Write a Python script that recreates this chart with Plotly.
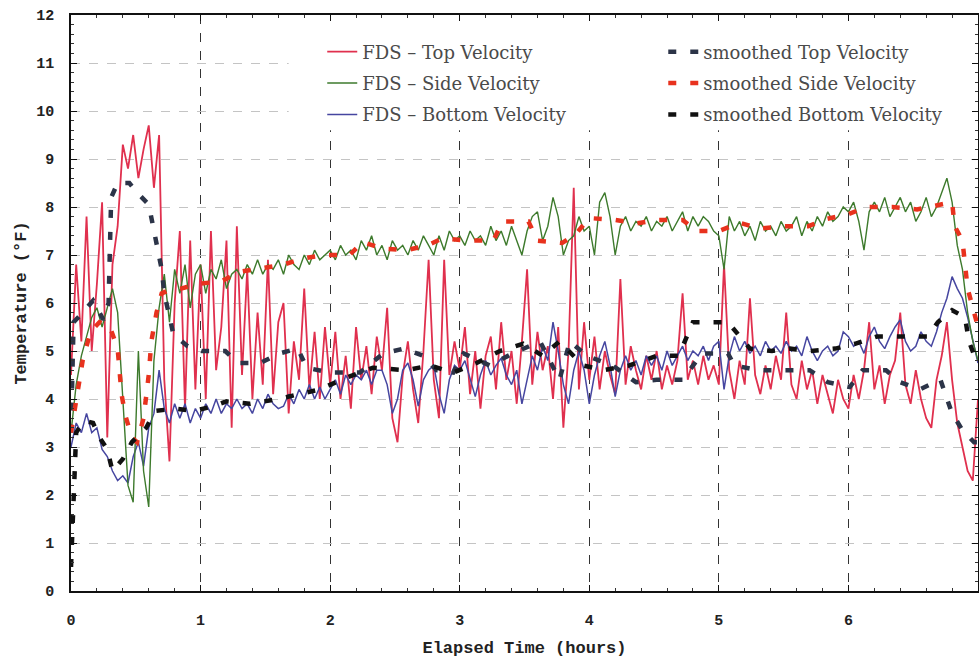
import plotly.graph_objects as go

# ---- raw FDS series, sampled every 0.04 h (25 samples per hour) ----
top_velocity = [
    4.5, 6.8, 5.2, 7.8, 5.0, 6.4, 8.1, 3.2, 6.8, 7.6, 9.3, 8.8, 9.5, 8.6, 9.2, 9.7, 8.4, 9.5, 4.4, 2.7, 6.0, 7.5, 3.8, 7.3, 4.2,
    6.8, 4.0, 7.5, 4.6, 5.5, 7.3, 3.4, 7.6, 4.5, 6.7, 4.0, 5.8, 4.3, 6.9, 4.1, 5.6, 6.0, 3.7, 5.2, 4.4, 6.3, 4.2, 5.4, 4.0, 5.5,
    4.3, 5.4, 4.0, 4.9, 3.8, 5.5, 4.4, 5.1, 4.1, 5.3, 4.6, 5.9, 3.6, 3.1, 4.5, 5.2, 4.2, 3.5, 5.0, 6.9, 4.4, 3.6, 6.9, 4.5, 5.2,
    4.6, 5.5, 4.1, 5.0, 3.8, 4.9, 5.3, 4.2, 5.6, 4.4, 5.0, 3.9, 5.2, 6.7, 4.3, 5.4, 4.6, 5.1, 4.0, 5.5, 3.4, 5.0, 8.4, 4.2, 5.6,
    4.4, 5.3, 4.2, 5.0, 4.5, 4.1, 6.5, 4.3, 5.1, 4.6, 4.2, 4.9, 4.4, 5.0, 4.2, 4.7, 4.3, 4.8, 6.2, 4.4, 4.8, 4.3, 4.9, 4.4, 4.7,
    4.3, 6.8, 4.6, 4.0, 4.8, 4.3, 6.1, 4.5, 4.1, 4.7, 4.2, 4.9, 4.4, 5.8, 4.3, 4.0, 4.8, 4.2, 4.6, 3.9, 4.5, 4.1, 3.7, 4.4, 4.0,
    3.8, 4.5, 4.0, 4.6, 5.6, 4.2, 4.7, 3.9, 4.5, 4.8, 5.8, 4.3, 3.9, 4.6, 4.0, 3.6, 3.4, 4.4, 4.9, 5.6, 4.4, 3.5, 3.0, 2.5, 2.3,
    4.0,
]
side_velocity = [
    3.3, 4.3, 4.9, 5.3, 5.7, 5.9, 5.5, 5.9, 6.3, 5.8, 4.0, 2.2, 1.85, 5.0, 2.5, 1.75, 4.8, 5.9, 6.6, 5.6, 6.7, 6.2, 6.8, 5.9, 6.6,
    6.8, 6.2, 6.7, 6.5, 6.9, 6.3, 6.6, 6.7, 6.5, 6.8, 6.6, 6.9, 6.6, 6.8, 6.7, 6.9, 6.6, 7.0, 6.8, 6.7, 7.0, 6.8, 7.1, 6.9, 7.0,
    7.1, 6.9, 7.2, 7.0, 7.1, 6.9, 7.3, 7.1, 7.4, 7.0, 7.2, 6.9, 7.3, 7.1, 7.2, 7.0, 7.3, 7.1, 7.4, 7.2, 7.0, 7.4, 7.1, 7.5, 7.3,
    7.4, 7.2, 7.5, 7.3, 7.4, 7.2, 7.6, 7.3, 7.5, 7.2, 7.6, 7.3, 7.0, 7.5, 7.8, 7.9, 7.3, 7.6, 8.2, 7.8, 7.0, 7.3, 7.4, 7.8, 7.5,
    7.6, 7.0, 8.1, 8.3, 7.8, 7.0, 7.6, 7.8, 7.5, 7.7, 7.6, 7.8, 7.5, 7.7, 7.6, 7.8, 7.5, 7.7, 7.9, 7.5, 7.8, 7.6, 7.8, 7.7, 7.5,
    7.4, 6.7, 7.8, 7.5, 7.7, 7.4, 7.6, 7.3, 7.7, 7.5, 7.6, 7.4, 7.7, 7.5, 7.6, 7.8, 7.4, 7.7, 7.5, 7.8, 7.6, 7.9, 7.7, 7.8, 8.0,
    7.9, 8.1, 7.7, 7.1, 7.9, 8.1, 7.9, 8.2, 7.8, 8.0, 8.2, 7.9, 8.1, 7.7, 7.9, 8.2, 7.8, 8.0, 8.3, 8.6, 8.1, 7.2, 6.7, 5.8, 5.2,
    4.8,
]
bottom_velocity = [
    3.0, 3.5, 3.3, 3.7, 3.3, 3.4, 2.95, 2.8, 2.5, 2.3, 2.4, 2.25, 2.8, 3.1, 2.6, 3.4, 3.7, 4.6, 3.8, 3.5, 3.9, 3.6, 3.9, 3.5, 3.8,
    3.6, 3.9, 3.7, 4.0, 3.7, 3.9, 3.8, 4.0, 3.8, 3.9, 3.7, 4.0, 3.8, 4.1, 3.9, 3.8, 3.85, 4.1, 3.9, 4.2, 4.0, 4.3, 4.0, 4.25, 4.0,
    4.2, 4.4, 4.1, 4.5, 4.3, 4.5, 4.4, 4.6, 4.3, 4.6, 4.6, 4.3, 3.7, 4.0, 4.6, 4.75, 4.4, 3.85, 4.4, 4.6, 4.7, 4.1, 3.7, 4.4, 4.7,
    4.6, 4.8, 4.4, 4.05, 4.5, 4.8, 4.5, 4.7, 4.85, 4.5, 4.3, 4.6, 3.9, 4.4, 4.9, 4.6, 5.1, 4.8, 5.6, 5.0, 4.3, 3.9, 4.6, 5.0, 4.6,
    3.9, 4.5, 4.9, 5.2, 4.7, 4.05, 4.6, 4.9, 4.6, 4.8, 4.5, 4.9, 4.7, 4.9, 4.6, 5.0, 4.7, 4.9, 5.1, 4.8, 5.0, 4.9, 5.1, 4.8, 5.1,
    5.2, 4.2, 4.9, 5.3, 5.0, 5.2, 4.95, 5.1, 4.9, 5.2, 5.0, 5.1, 4.95, 5.2, 5.0, 5.1, 4.9, 5.3, 5.0, 4.8, 5.0, 5.1, 4.9, 5.0, 5.4,
    5.3, 5.1, 5.2, 4.95, 5.3, 5.5, 5.2, 5.05, 5.3, 5.5, 5.65, 5.2, 5.0, 5.1, 5.4, 5.2, 5.1, 5.4, 5.8, 6.1, 6.55, 6.3, 6.1, 5.7, 5.2,
    4.75,
]
sample_step_h = 0.04
raw_hours = [round(i * sample_step_h, 2) for i in range(len(top_velocity))]

# ---- smoothed series: (elapsed hours, temperature) ----
smoothed_top = [
    (0.0, 3.3), (0.02, 5.6), (0.09, 5.8), (0.17, 6.05), (0.25, 5.65), (0.29, 6.0), (0.31, 8.2), (0.36, 8.5),
    (0.45, 8.5), (0.51, 8.3), (0.6, 8.05), (0.65, 7.4), (0.7, 6.7), (0.72, 6.2), (0.79, 5.35), (0.9, 5.1),
    (1.01, 5.0), (1.19, 5.0), (1.29, 4.75), (1.46, 4.75), (1.61, 4.95), (1.75, 5.05), (1.82, 4.65), (2.0, 4.55),
    (2.23, 4.55), (2.41, 4.95), (2.57, 5.05), (2.72, 4.9), (2.82, 4.6), (2.95, 4.55), (3.03, 4.95), (3.23, 4.7),
    (3.41, 4.95), (3.62, 5.2), (3.77, 4.4), (3.85, 5.2), (3.98, 4.9), (4.18, 4.7), (4.36, 4.35), (4.52, 4.4),
    (4.72, 4.4), (4.87, 4.95), (5.07, 4.95), (5.12, 4.7), (5.3, 4.6), (5.49, 4.6), (5.7, 4.6), (5.84, 4.35),
    (6.01, 4.25), (6.11, 4.6), (6.29, 4.6), (6.4, 4.35), (6.55, 4.2), (6.71, 4.4), (6.8, 3.7), (6.88, 3.35),
    (6.97, 3.1), (7.0, 3.1),
]
smoothed_side = [
    (0.0, 3.3), (0.05, 4.2), (0.09, 4.8), (0.15, 5.4), (0.22, 5.6), (0.3, 5.5), (0.36, 5.05), (0.39, 4.1),
    (0.42, 3.65), (0.47, 3.2), (0.51, 3.1), (0.56, 3.6), (0.6, 4.5), (0.62, 5.2), (0.66, 5.8), (0.7, 6.2),
    (0.76, 6.27), (0.85, 6.3), (0.98, 6.4), (1.16, 6.45), (1.3, 6.65), (1.46, 6.72), (1.64, 6.8), (1.79, 6.93),
    (1.97, 7.0), (2.15, 7.0), (2.25, 7.27), (2.41, 7.13), (2.59, 7.1), (2.75, 7.2), (2.87, 7.35), (3.05, 7.3),
    (3.26, 7.3), (3.33, 7.7), (3.53, 7.7), (3.6, 7.3), (3.79, 7.25), (3.9, 7.45), (4.0, 7.77), (4.2, 7.73),
    (4.37, 7.66), (4.53, 7.73), (4.72, 7.73), (4.83, 7.5), (5.0, 7.5), (5.16, 7.67), (5.32, 7.55), (5.5, 7.6),
    (5.69, 7.6), (5.83, 7.75), (6.0, 7.85), (6.14, 8.0), (6.34, 8.0), (6.53, 7.95), (6.69, 8.05), (6.8, 8.1),
    (6.82, 7.6), (6.88, 7.3), (6.9, 6.8), (6.92, 6.3), (7.0, 5.5),
]
smoothed_bottom = [
    (0.0, 0.5), (0.01, 1.2), (0.02, 2.3), (0.04, 3.3), (0.1, 3.55), (0.17, 3.5), (0.22, 3.2), (0.28, 2.95),
    (0.32, 2.5), (0.4, 2.75), (0.47, 3.1), (0.58, 3.4), (0.65, 3.75), (0.8, 3.8), (0.95, 3.75), (1.1, 3.85),
    (1.2, 3.95), (1.38, 3.9), (1.6, 4.0), (1.92, 4.2), (2.13, 4.45), (2.33, 4.65), (2.59, 4.6), (2.77, 4.7),
    (2.95, 4.55), (3.13, 4.75), (3.31, 5.0), (3.49, 5.15), (3.64, 4.9), (3.77, 5.2), (3.95, 4.7), (4.11, 4.6),
    (4.31, 4.7), (4.52, 4.9), (4.69, 4.9), (4.8, 5.6), (4.87, 5.6), (5.07, 5.6), (5.24, 5.05), (5.41, 5.0),
    (5.55, 5.05), (5.7, 5.0), (5.9, 5.05), (6.05, 5.15), (6.22, 5.3), (6.4, 5.3), (6.61, 5.3), (6.69, 5.6),
    (6.8, 5.85), (6.9, 5.7), (6.93, 5.2), (7.0, 4.7),
]

x_ticks = [0, 1, 2, 3, 4, 5, 6, 7]
y_ticks = list(range(0, 13))

SMOOTH_W = 4.5
SMOOTH_DASH = "8px,14px"

fig = go.Figure()

# raw traces (first legend column); drawing order red, blue, green
raw_specs = [
    (top_velocity, "FDS – Top Velocity", "#e0304e", 1.8, "a", 1),
    (bottom_velocity, "FDS – Bottom Velocity", "#4646a0", 1.5, "c", 3),
    (side_velocity, "FDS – Side Velocity", "#3d7a2c", 1.4, "b", 2),
]
for values, name, color, width, grp, rank in raw_specs:
    fig.add_trace(go.Scatter(x=raw_hours, y=values, mode="lines", name=name,
                             line=dict(color=color, width=width),
                             legend="legend", legendgroup=grp, legendrank=rank))


def unzip(pairs):
    return [p[0] for p in pairs], [p[1] for p in pairs]


# smoothed traces (second legend column)
for pairs, name, color, grp, rank in [
    (smoothed_top, "smoothed Top Velocity", "#2c3448", "d", 1),
    (smoothed_side, "smoothed Side Velocity", "#e8321e", "e", 2),
    (smoothed_bottom, "smoothed Bottom Velocity", "#111111", "f", 3),
]:
    xs, ys = unzip(pairs)
    fig.add_trace(go.Scatter(x=xs, y=ys, mode="lines", name=name,
                             line=dict(color=color, width=SMOOTH_W, dash=SMOOTH_DASH),
                             legend="legend2", legendgroup=grp, legendrank=rank))

legend_font = dict(family="DejaVu Serif", size=18, color="#4a4a4a")
tick_font = dict(family="Liberation Mono", size=15, color="#222222", weight="bold")
title_font = dict(family="Liberation Mono", size=17, color="#222222", weight="bold")

# white panel behind the legend block: hides the grid there, stays under the data
fig.add_shape(type="rect", xref="x", yref="y", x0=1.68, x1=7.0, y0=9.6, y1=12.0,
              fillcolor="white", line=dict(width=0), layer="between")

fig.update_layout(
    width=979, height=664,
    margin=dict(l=71, r=1, t=15, b=73, autoexpand=False),
    paper_bgcolor="white", plot_bgcolor="white",
    legend=dict(x=0.277, y=0.968, xanchor="left", yanchor="top", bgcolor="rgba(0,0,0,0)",
                font=legend_font, tracegroupgap=5, traceorder="grouped"),
    legend2=dict(x=0.653, y=0.968, xanchor="left", yanchor="top", bgcolor="rgba(0,0,0,0)",
                 font=legend_font, tracegroupgap=5, traceorder="grouped"),
    xaxis=dict(range=[0, 7], tickvals=x_ticks, showline=True, linecolor="#111", linewidth=1.5,
               mirror="ticks", ticks="inside", ticklen=6, tickcolor="#111", automargin=False,
               minor=dict(dtick=0.2, ticks="inside", ticklen=3, tickcolor="#333", showgrid=False),
               showgrid=True, gridcolor="#333333", griddash="dash", gridwidth=1, zeroline=False,
               tickfont=tick_font, ticklabelstandoff=14,
               title=dict(text="Elapsed Time (hours)", font=title_font, standoff=12)),
    yaxis=dict(range=[0, 12], tickvals=y_ticks, showline=True, linecolor="#111", linewidth=1.5,
               mirror="ticks", ticks="inside", ticklen=6, tickcolor="#111", automargin=False,
               minor=dict(dtick=0.2, ticks="inside", ticklen=3, tickcolor="#333", showgrid=False),
               showgrid=True, gridcolor="#c4c4c4", griddash="dash", gridwidth=1, zeroline=False,
               tickfont=tick_font, ticklabelstandoff=12,
               title=dict(text="Temperature (°F)", font=title_font, standoff=5)),
    showlegend=True,
)

fig.write_html("out.html")
